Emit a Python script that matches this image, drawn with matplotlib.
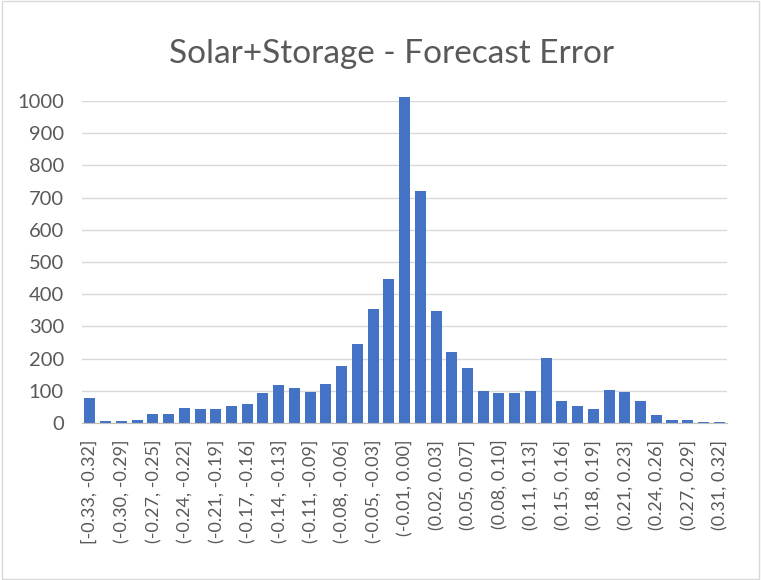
import matplotlib
matplotlib.use("Agg")
import matplotlib.pyplot as plt

bins = ["[-0.33, -0.32]", "(-0.32, -0.30]", "(-0.30, -0.29]", "(-0.29, -0.27]",
        "(-0.27, -0.25]", "(-0.25, -0.24]", "(-0.24, -0.22]", "(-0.22, -0.21]",
        "(-0.21, -0.19]", "(-0.19, -0.17]", "(-0.17, -0.16]", "(-0.16, -0.14]",
        "(-0.14, -0.13]", "(-0.13, -0.11]", "(-0.11, -0.09]", "(-0.09, -0.08]",
        "(-0.08, -0.06]", "(-0.06, -0.05]", "(-0.05, -0.03]", "(-0.03, -0.01]",
        "(-0.01, 0.00]", "(0.00, 0.02]", "(0.02, 0.03]", "(0.03, 0.05]",
        "(0.05, 0.07]", "(0.07, 0.08]", "(0.08, 0.10]", "(0.10, 0.11]",
        "(0.11, 0.13]", "(0.13, 0.15]", "(0.15, 0.16]", "(0.16, 0.18]",
        "(0.18, 0.19]", "(0.19, 0.21]", "(0.21, 0.23]", "(0.23, 0.24]",
        "(0.24, 0.26]", "(0.26, 0.27]", "(0.27, 0.29]", "(0.29, 0.31]",
        "(0.31, 0.32]"]
counts = [77, 5, 5, 10, 27, 27, 46, 43, 43, 52,
          60, 93, 118, 108, 96, 122, 176, 245, 355, 447,
          1011, 720, 349, 220, 170, 100, 93, 93, 100, 203,
          67, 52, 43, 103, 95, 67, 26, 8, 8, 4,
          4]
yticks = [0, 100, 200, 300, 400, 500, 600, 700, 800, 900, 1000]
title = "Solar+Storage - Forecast Error"

plt.rcParams['font.family'] = ['Lato', 'DejaVu Sans']
fig = plt.figure(figsize=(7.61, 5.80), dpi=100)
ax = fig.add_axes([0.1078, 0.2707, 0.8476, 0.5552])

x = list(range(len(counts)))
ax.bar(x, counts, width=0.7, color="#4472C4", zorder=3, clip_on=False)
ax.set_xlim(-0.5, len(counts) - 0.5)
ax.set_ylim(0, 1000)
ax.set_yticks(yticks)
ax.set_yticklabels([str(v) for v in yticks], fontsize=14.5, color="#595959")
ax.set_xticks(x[::2])
ax.set_xticklabels(bins[::2], rotation=90, fontsize=13, color="#595959")
ax.tick_params(axis='y', length=0, pad=13)
ax.tick_params(axis='x', length=0, pad=12)
ax.grid(axis='y', color="#D9D9D9", linewidth=1, zorder=0)
for s in ['top', 'right', 'left']:
    ax.spines[s].set_visible(False)
ax.spines['bottom'].set_color("#BFBFBF")
ax.spines['bottom'].set_zorder(4)

fig.text(0.514, 0.907, title, ha='center', va='center', fontsize=24, color="#595959")
fig.patches.append(plt.Rectangle((0.002, 0.002), 0.996, 0.996, transform=fig.transFigure,
                                 fill=False, edgecolor="#D9D9D9", linewidth=1))
fig.savefig("out.png", dpi=100, facecolor="white")
